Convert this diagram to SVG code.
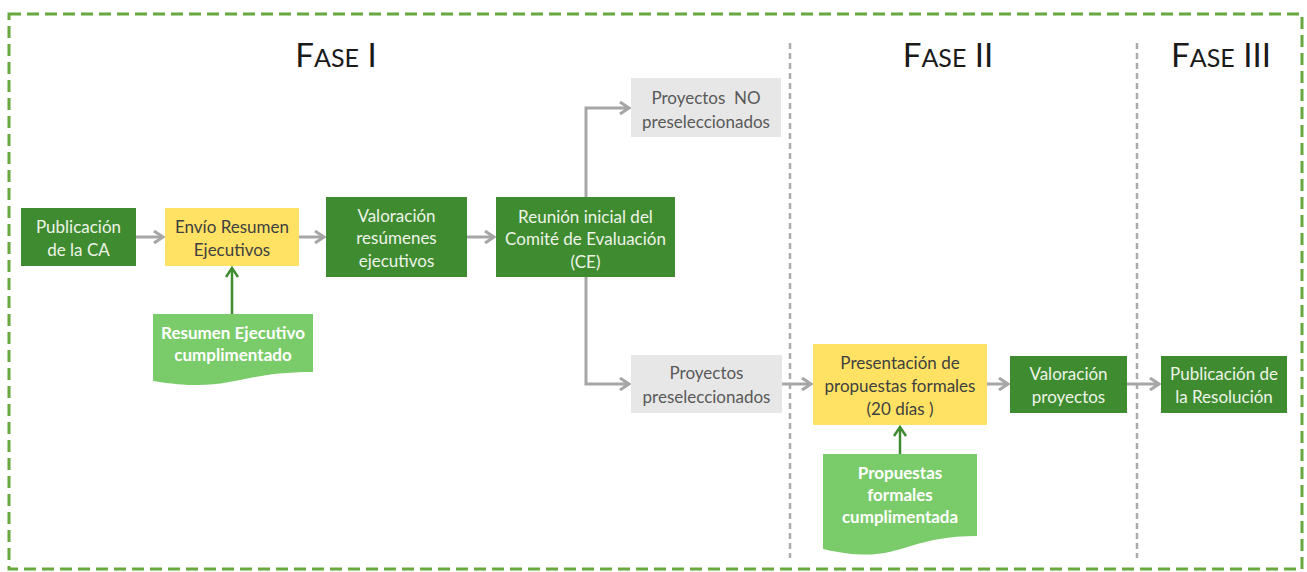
<svg xmlns="http://www.w3.org/2000/svg" width="1307" height="572" viewBox="0 0 1307 572">
<defs>
<style>
.t{font-family:Lato,"Liberation Sans",sans-serif;font-size:17px;text-anchor:middle}
.dk{fill:#3f8b30}
.dk-t{fill:#eef4e8}
.ye{fill:#ffe263}
.ye-t{fill:#404040}
.gr{fill:#e7e7e7}
.gr-t{fill:#595959}
.doc{fill:#7acc6a}
.doc-t{fill:#ffffff;font-weight:bold}
.title{font-family:Lato,"Liberation Sans",sans-serif;fill:#1a1a1a;text-anchor:middle}
.c{fill:none;stroke:#a6a6a6;stroke-width:3}
.cg{fill:none;stroke:#3f8b30;stroke-width:2.5}
</style>
<marker id="ag" markerWidth="12" markerHeight="14" refX="10" refY="7" orient="auto" markerUnits="userSpaceOnUse">
<path d="M1,1 L10,7 L1,13" fill="none" stroke="#a6a6a6" stroke-width="3"/>
</marker>
<marker id="agr" markerWidth="12" markerHeight="14" refX="10" refY="7" orient="auto" markerUnits="userSpaceOnUse">
<path d="M1,1 L10,7 L1,13" fill="none" stroke="#3f8b30" stroke-width="2.5"/>
</marker>
</defs>
<rect width="1307" height="572" fill="#ffffff"/>
<rect x="9" y="14" width="1293" height="555" fill="none" stroke="#67a83f" stroke-width="3" stroke-dasharray="12 6"/>
<g id="dividers">
<line x1="790" y1="43" x2="790" y2="558" stroke="#acacac" stroke-width="2.5" stroke-dasharray="6 4"/>
<line x1="1137" y1="43" x2="1137" y2="558" stroke="#acacac" stroke-width="2.5" stroke-dasharray="6 4"/>
</g>
<g id="titles">
<text class="title" x="336" y="67"><tspan font-size="33">F</tspan><tspan font-size="25">ASE</tspan><tspan font-size="33"> I</tspan></text>
<text class="title" x="948" y="67"><tspan font-size="33">F</tspan><tspan font-size="25">ASE</tspan><tspan font-size="33"> II</tspan></text>
<text class="title" x="1221" y="67"><tspan font-size="33">F</tspan><tspan font-size="25">ASE</tspan><tspan font-size="33"> III</tspan></text>
</g>
<g id="connectors">
<line class="c" x1="136" y1="237" x2="163" y2="237" marker-end="url(#ag)"/>
<line class="c" x1="299" y1="237" x2="324" y2="237" marker-end="url(#ag)"/>
<line class="c" x1="467" y1="237" x2="494" y2="237" marker-end="url(#ag)"/>
<polyline class="c" points="586,197 586,108 629,108" marker-end="url(#ag)"/>
<polyline class="c" points="586,277 586,384 629,384" marker-end="url(#ag)"/>
<line class="c" x1="782" y1="384" x2="811" y2="384" marker-end="url(#ag)"/>
<line class="c" x1="987" y1="384" x2="1008" y2="384" marker-end="url(#ag)"/>
<line class="c" x1="1127" y1="384" x2="1159" y2="384" marker-end="url(#ag)"/>
<line class="cg" x1="232" y1="314" x2="232" y2="268" marker-end="url(#agr)"/>
<line class="cg" x1="900" y1="454" x2="900" y2="427" marker-end="url(#agr)"/>
</g>
<g id="n-pubca">
<rect class="dk" x="21" y="208" width="115" height="58"/>
<text class="t dk-t" x="78.5" y="233">Publicación</text>
<text class="t dk-t" x="78.5" y="256">de la CA</text>
</g>
<g id="n-envio">
<rect class="ye" x="165" y="208" width="134" height="58"/>
<text class="t ye-t" x="232" y="233">Envío Resumen</text>
<text class="t ye-t" x="232" y="256">Ejecutivos</text>
</g>
<g id="n-valres">
<rect class="dk" x="326" y="197" width="141" height="80"/>
<text class="t dk-t" x="396.5" y="222">Valoración</text>
<text class="t dk-t" x="396.5" y="244">resúmenes</text>
<text class="t dk-t" x="396.5" y="267">ejecutivos</text>
</g>
<g id="n-reunion">
<rect class="dk" x="496" y="197" width="179" height="80"/>
<text class="t dk-t" x="585.5" y="223">Reunión inicial del</text>
<text class="t dk-t" x="585.5" y="245">Comité de Evaluación</text>
<text class="t dk-t" x="585.5" y="268">(CE)</text>
</g>
<g id="n-nopre">
<rect class="gr" x="631" y="78" width="150" height="59"/>
<text class="t gr-t" x="706" y="104" xml:space="preserve">Proyectos  NO</text>
<text class="t gr-t" x="706" y="128">preseleccionados</text>
</g>
<g id="n-pre">
<rect class="gr" x="631" y="355" width="151" height="58"/>
<text class="t gr-t" x="706.5" y="379">Proyectos</text>
<text class="t gr-t" x="706.5" y="403">preseleccionados</text>
</g>
<g id="n-present">
<rect class="ye" x="813" y="344" width="174" height="81"/>
<text class="t ye-t" x="900" y="369">Presentación de</text>
<text class="t ye-t" x="900" y="392">propuestas formales</text>
<text class="t ye-t" x="900" y="415">(20 días )</text>
</g>
<g id="n-valproy">
<rect class="dk" x="1010" y="356" width="117" height="57"/>
<text class="t dk-t" x="1068.5" y="380">Valoración</text>
<text class="t dk-t" x="1068.5" y="403">proyectos</text>
</g>
<g id="n-pubres">
<rect class="dk" x="1161" y="356" width="126" height="57"/>
<text class="t dk-t" x="1224" y="380">Publicación de</text>
<text class="t dk-t" x="1224" y="403">la Resolución</text>
</g>
<g id="n-doc1">
<path class="doc" d="M153,314 H313 V372 C233,372 233,394 153,381 Z"/>
<text class="t doc-t" x="233" y="339">Resumen Ejecutivo</text>
<text class="t doc-t" x="233" y="361">cumplimentado</text>
</g>
<g id="n-doc2">
<path class="doc" d="M823,454 H977 V536 C900,536 900,567 823,549 Z"/>
<text class="t doc-t" x="900" y="479">Propuestas</text>
<text class="t doc-t" x="900" y="501">formales</text>
<text class="t doc-t" x="900" y="523">cumplimentada</text>
</g>
</svg>
